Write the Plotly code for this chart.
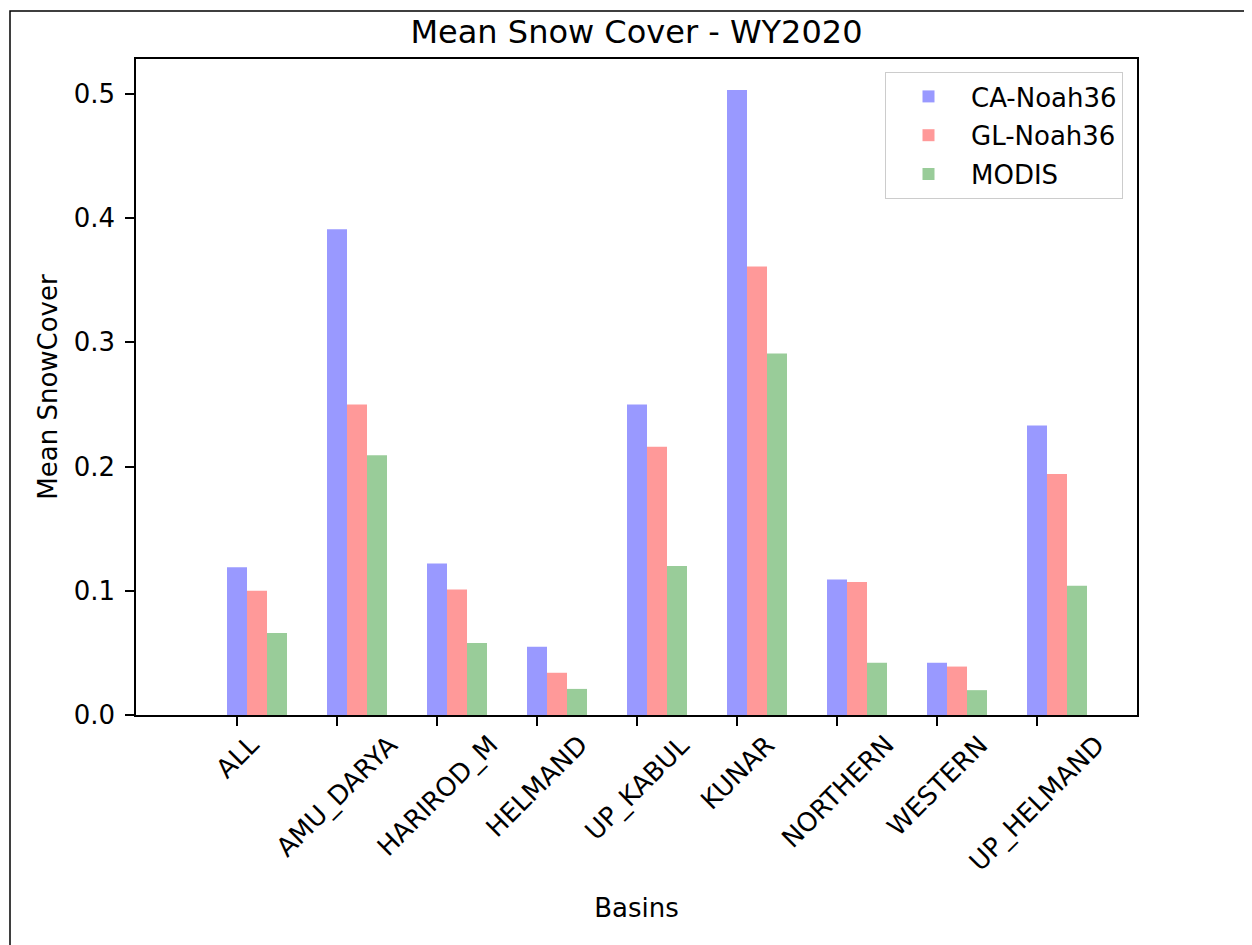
import plotly.graph_objects as go

basins = ["ALL", "AMU_DARYA", "HARIROD_M", "HELMAND", "UP_KABUL",
          "KUNAR", "NORTHERN", "WESTERN", "UP_HELMAND"]
ca_noah36 = [0.119, 0.391, 0.122, 0.055, 0.250, 0.503, 0.109, 0.042, 0.233]
gl_noah36 = [0.100, 0.250, 0.101, 0.034, 0.216, 0.361, 0.107, 0.039, 0.194]
modis = [0.066, 0.209, 0.058, 0.021, 0.120, 0.291, 0.042, 0.020, 0.104]
y_ticks = [0.0, 0.1, 0.2, 0.3, 0.4, 0.5]

FONT = "DejaVu Sans"
FS = 26
PAGE_PAD = 8  # default body margin of the html page
W, H = 1252 - PAGE_PAD, 945 - PAGE_PAD
L, R, T, B = 136 - PAGE_PAD, 115, 59 - PAGE_PAD, 230
plot_w = W - L - R
plot_h = H - T - B
AX_L, AX_B = 136, 715  # axes corners in page pixels

fig = go.Figure()
series = [
    ("CA-Noah36", ca_noah36, "rgba(0,0,255,0.4)", -0.1),
    ("GL-Noah36", gl_noah36, "rgba(255,0,0,0.4)", 0.1),
    ("MODIS", modis, "rgba(0,128,0,0.4)", 0.3),
]
for name, vals, color, off in series:
    fig.add_trace(go.Bar(
        x=basins, y=vals, name=name, width=0.2, offset=off,
        legendgroup=name,
        marker=dict(color=color, line=dict(width=0)),
    ))

# rotated tick labels, bounding box centred under each tick (matplotlib style)
for b in basins:
    fig.add_annotation(
        x=b, xref="x", y=-(727 - AX_B) / plot_h, yref="paper",
        text=b, showarrow=False, textangle=-45,
        xanchor="center", yanchor="top",
        font=dict(family=FONT, size=FS, color="black"),
    )

# outer figure frame
fig.add_shape(
    type="rect", xref="paper", yref="paper",
    x0=(10 - AX_L) / plot_w, x1=1.3, y0=-0.5, y1=(AX_B - 11) / plot_h,
    line=dict(color="black", width=1.5), fillcolor="rgba(0,0,0,0)",
    layer="above",
)

fig.update_layout(
    width=W, height=H,
    margin=dict(l=L, r=R, t=T, b=B, autoexpand=False),
    paper_bgcolor="white", plot_bgcolor="white",
    barmode="overlay",
    font=dict(family=FONT, size=FS, color="black"),
    title=dict(
        text="Mean Snow Cover - WY2020", x=0.5, xref="paper",
        y=1 - (32 - PAGE_PAD) / H, yref="container", yanchor="middle",
        xanchor="center",
        font=dict(family=FONT, size=32, color="black"),
    ),
    showlegend=True,
    legend=dict(
        x=(1123 - AX_L) / plot_w, xanchor="right",
        y=(AX_B - 72) / plot_h, yanchor="top",
        bgcolor="white", bordercolor="#cccccc", borderwidth=1,
        font=dict(family=FONT, size=FS, color="black"),
        itemwidth=75, tracegroupgap=2,
    ),
    xaxis=dict(
        range=[-1.01, 9.0], tickmode="array", tickvals=basins,
        ticktext=[""] * len(basins),
        showline=True, mirror=True, linecolor="black", linewidth=1.5,
        ticks="outside", ticklen=9, tickwidth=1.5, tickcolor="black",
        showgrid=False, zeroline=False, automargin=False,
        title=dict(text="Basins", standoff=169,
                   font=dict(family=FONT, size=FS, color="black")),
    ),
    yaxis=dict(
        range=[0, 0.528], tickmode="array", tickvals=y_ticks,
        tickformat=".1f", ticklabelstandoff=5,
        showline=True, mirror=True, linecolor="black", linewidth=1.5,
        ticks="outside", ticklen=9, tickwidth=1.5, tickcolor="black",
        showgrid=False, zeroline=False, automargin=False,
        tickfont=dict(family=FONT, size=FS, color="black"),
        title=dict(text="Mean SnowCover", standoff=9,
                   font=dict(family=FONT, size=FS, color="black")),
    ),
)

fig.write_html("out.html")
